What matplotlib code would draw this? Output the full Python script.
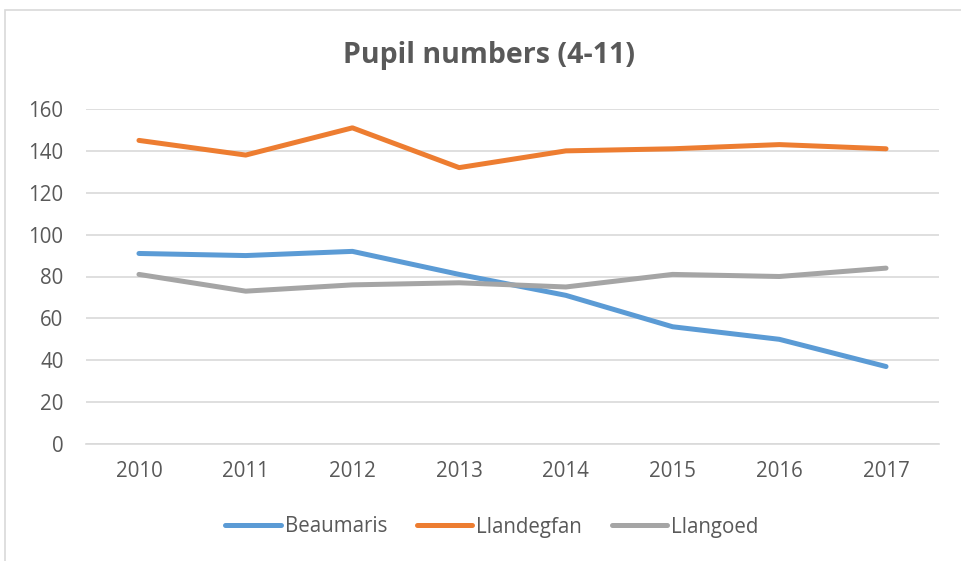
import matplotlib.pyplot as plt
from matplotlib.patches import Rectangle

years = ['2010', '2011', '2012', '2013', '2014', '2015', '2016', '2017']
beaumaris = [91, 90, 92, 81, 71, 56, 50, 37]
llandegfan = [145, 138, 151, 132, 140, 141, 143, 141]
llangoed = [81, 73, 76, 77, 75, 81, 80, 84]

plt.rcParams['font.family'] = ['Open Sans', 'DejaVu Sans']
text_col = '#595959'
grid_col = '#D9D9D9'

fig = plt.figure(figsize=(9.61, 5.61), dpi=100)
# chart border
fig.patches.append(Rectangle((5 / 961, -0.1), 1.2, 1 - 10 / 561 + 0.1, transform=fig.transFigure,
                             fill=False, edgecolor=grid_col, linewidth=1.2))

ax = fig.add_axes([85.6 / 961, 117 / 561, 853.8 / 961, 335 / 561])
x = range(len(years))
ax.plot(x, beaumaris, color='#5B9BD5', lw=3.6, solid_capstyle='round', label='Beaumaris')
ax.plot(x, llandegfan, color='#ED7D31', lw=3.6, solid_capstyle='round', label='Llandegfan')
ax.plot(x, llangoed, color='#A5A5A5', lw=3.6, solid_capstyle='round', label='Llangoed')

ax.set_xlim(-0.5, len(years) - 0.5)
ax.set_ylim(0, 160)
ax.set_yticks(range(0, 161, 20))
ax.set_xticks(list(x))
ax.set_xticklabels(years)
ax.yaxis.grid(True, color=grid_col, lw=1.2)
ax.set_axisbelow(True)
for s in ['top', 'right', 'left']:
    ax.spines[s].set_visible(False)
ax.spines['bottom'].set_color(grid_col)
ax.spines['bottom'].set_linewidth(1.2)
ax.tick_params(axis='both', length=0, labelsize=14.8, colors=text_col)
ax.tick_params(axis='y', pad=16)
ax.tick_params(axis='x', pad=12)

fig.text(488.5 / 961, 1 - 63 / 561, 'Pupil numbers (4-11)', ha='center', va='baseline',
         fontsize=20.5, fontweight='bold', color=text_col)

leg = fig.legend(loc='center', bbox_to_anchor=(492 / 961, 1 - 527 / 561), ncol=3, frameon=False,
                 fontsize=14.8, handlelength=2.68, handletextpad=0.2, columnspacing=1.46)
for t in leg.get_texts():
    t.set_color(text_col)

fig.savefig('out.png', dpi=100)
